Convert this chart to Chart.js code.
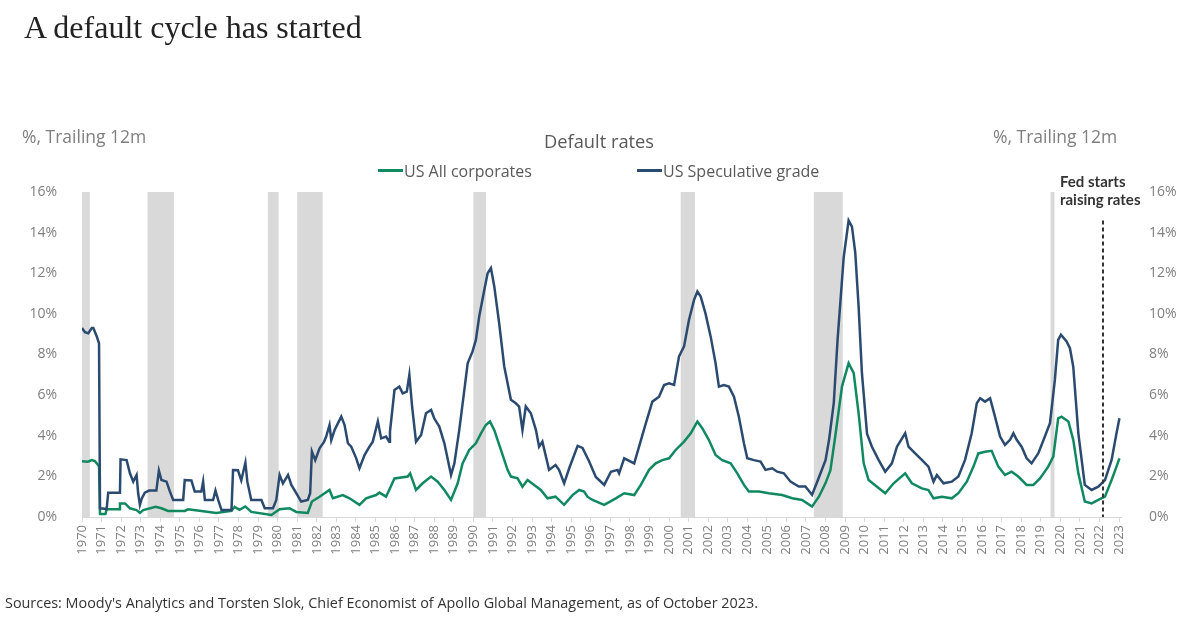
<!DOCTYPE html>
<html lang="en">
<head>
    <meta charset="UTF-8">
    <meta name="viewport" content="width=device-width, initial-scale=1.0">
    <script src="https://cdn.jsdelivr.net/npm/chart.js"></script>
    <style>
        html, body {
            margin: 0;
            padding: 0;
            background: #ffffff;
            width: 1200px;
            height: 627px;
            overflow: hidden;
            font-family: "Open Sans", Lato, sans-serif;
        }
        #chart {
            position: absolute;
            left: 0;
            top: 0;
        }
        .txt {
            position: absolute;
            white-space: nowrap;
            line-height: 1;
        }
        .swatch {
            display: inline-block;
            width: 25px;
            height: 3px;
            vertical-align: middle;
            margin-right: 1px;
            position: relative;
            top: -2px;
        }
    </style>
    <title>A default cycle has started</title>
</head>
<body>

<canvas id="chart" width="1200" height="627"></canvas>

<div class="txt" style="left:24px; top:11px; font-family:'Liberation Serif','DejaVu Serif',serif; font-size:32px; color:#222;">A default cycle has started</div>
<div class="txt" style="left:22px; top:128px; font-size:17.5px; color:#7f7f7f;">%, Trailing 12m</div>
<div class="txt" style="left:993px; top:128px; font-size:17.5px; color:#7f7f7f;">%, Trailing 12m</div>
<div class="txt" style="left:544px; top:132px; font-size:18.3px; color:#595959;">Default rates</div>
<div class="txt" style="left:378px; top:163px; font-size:16px; color:#595959;"><span class="swatch" style="background:#10895f;"></span>US All corporates</div>
<div class="txt" style="left:637px; top:163px; font-size:16px; color:#595959;"><span class="swatch" style="background:#2b4a70;"></span>US Speculative grade</div>
<div class="txt" style="left:1060px; top:172px; font-family:Lato,sans-serif; font-size:15px; font-weight:bold; color:#333; line-height:18px;">Fed starts<br>raising rates</div>
<div class="txt" style="left:5px; top:596px; font-size:14.4px; color:#333;">Sources: Moody's Analytics and Torsten Slok, Chief Economist of Apollo Global Management, as of October 2023.</div>

<script>
    // US Speculative grade, trailing 12m default rate (%)
    const specYears = [
        1970.00, 1970.15, 1970.32, 1970.50, 1970.58, 1970.75, 1970.87, 1970.92, 1971.26, 1971.34,
        1971.94, 1971.97, 1972.28, 1972.45, 1972.62, 1972.79, 1972.87, 1972.96, 1973.05, 1973.21,
        1973.43, 1973.80, 1973.93, 1974.06, 1974.32, 1974.49, 1974.66, 1975.17, 1975.25, 1975.59,
        1975.76, 1976.10, 1976.19, 1976.28, 1976.70, 1976.82, 1976.96, 1977.13, 1977.64, 1977.72,
        1977.97, 1978.14, 1978.35, 1978.45, 1978.65, 1979.17, 1979.34, 1979.76, 1979.93, 1980.10,
        1980.27, 1980.53, 1980.70, 1980.95, 1981.20, 1981.54, 1981.66, 1981.75, 1981.92, 1982.14,
        1982.37, 1982.48, 1982.65, 1982.74, 1982.91, 1983.25, 1983.42, 1983.59, 1983.76, 1984.01,
        1984.18, 1984.44, 1984.69, 1984.86, 1985.12, 1985.29, 1985.54, 1985.70, 1985.74, 1985.97,
        1986.22, 1986.39, 1986.60, 1986.73, 1986.87, 1987.07, 1987.33, 1987.58, 1987.84, 1988.00,
        1988.26, 1988.52, 1988.86, 1989.03, 1989.28, 1989.54, 1989.71, 1989.96, 1990.13, 1990.30,
        1990.56, 1990.73, 1990.90, 1991.07, 1991.32, 1991.58, 1991.92, 1992.17, 1992.34, 1992.51,
        1992.68, 1992.94, 1993.20, 1993.36, 1993.53, 1993.87, 1994.20, 1994.38, 1994.64, 1994.90,
        1995.33, 1995.58, 1995.92, 1996.26, 1996.69, 1997.03, 1997.37, 1997.45, 1997.71, 1998.22,
        1998.47, 1998.81, 1999.15, 1999.49, 1999.75, 2000.00, 2000.26, 2000.51, 2000.77, 2001.02,
        2001.28, 2001.45, 2001.62, 2001.87, 2002.13, 2002.38, 2002.55, 2002.80, 2003.06, 2003.32,
        2003.57, 2003.83, 2004.00, 2004.34, 2004.68, 2004.93, 2005.27, 2005.53, 2005.87, 2006.21,
        2006.63, 2006.97, 2007.31, 2007.60, 2008.00, 2008.18, 2008.42, 2008.62, 2008.93, 2009.18,
        2009.35, 2009.52, 2009.69, 2009.86, 2010.12, 2010.37, 2010.71, 2011.05, 2011.39, 2011.65,
        2012.07, 2012.24, 2012.58, 2012.92, 2013.26, 2013.52, 2013.69, 2014.03, 2014.45, 2014.79,
        2015.13, 2015.47, 2015.73, 2015.90, 2016.15, 2016.41, 2016.66, 2016.92, 2017.17, 2017.43,
        2017.60, 2017.77, 2018.02, 2018.28, 2018.53, 2018.87, 2019.21, 2019.47, 2019.72, 2019.89,
        2020.03, 2020.32, 2020.49, 2020.66, 2020.92, 2021.25, 2021.60, 2021.94, 2022.28, 2022.62,
        2022.87, 2023.02
    ];
    const specRates = [
        9.30, 9.10, 9.05, 9.30, 9.30, 8.90, 8.55, 0.43, 0.40, 1.20,
        1.20, 2.84, 2.80, 2.15, 1.74, 2.07, 1.17, 0.60, 0.90, 1.20,
        1.30, 1.30, 2.28, 1.82, 1.74, 1.26, 0.84, 0.84, 1.82, 1.80,
        1.26, 1.26, 1.74, 0.84, 0.84, 1.30, 0.84, 0.34, 0.34, 2.31,
        2.30, 1.80, 2.68, 1.74, 0.84, 0.84, 0.43, 0.43, 0.84, 2.07,
        1.65, 2.07, 1.58, 1.17, 0.76, 0.84, 1.17, 3.22, 2.80, 3.38,
        3.70, 3.96, 4.53, 3.78, 4.28, 4.94, 4.53, 3.63, 3.46, 2.90,
        2.40, 3.05, 3.46, 3.71, 4.70, 3.87, 3.96, 3.71, 4.20, 6.25,
        6.42, 6.09, 6.17, 7.00, 5.44, 3.71, 4.04, 5.11, 5.27, 4.86,
        4.45, 3.63, 2.07, 2.64, 4.28, 6.25, 7.57, 8.15, 8.72, 9.87,
        11.18, 12.00, 12.25, 11.35, 9.54, 7.41, 5.77, 5.60, 5.44, 4.28,
        5.44, 5.11, 4.28, 3.46, 3.71, 2.32, 2.56, 2.32, 1.66, 2.40,
        3.50, 3.40, 2.73, 1.97, 1.58, 2.23, 2.32, 2.15, 2.89, 2.64,
        3.46, 4.60, 5.68, 5.92, 6.50, 6.58, 6.50, 7.90, 8.40, 9.70,
        10.69, 11.10, 10.85, 10.00, 8.88, 7.57, 6.42, 6.50, 6.42, 5.92,
        4.94, 3.63, 2.89, 2.80, 2.73, 2.32, 2.40, 2.23, 2.15, 1.74,
        1.50, 1.50, 1.09, 1.80, 2.80, 3.80, 5.60, 8.80, 12.80, 14.60,
        14.30, 13.00, 10.36, 7.08, 4.10, 3.46, 2.81, 2.23, 2.64, 3.46,
        4.12, 3.46, 3.13, 2.81, 2.48, 1.74, 2.07, 1.66, 1.74, 1.99,
        2.81, 4.12, 5.60, 5.85, 5.68, 5.85, 4.94, 3.96, 3.55, 3.80,
        4.12, 3.80, 3.46, 2.89, 2.64, 3.13, 3.96, 4.62, 6.75, 8.72,
        8.97, 8.64, 8.31, 7.40, 4.12, 1.58, 1.33, 1.49, 1.82, 2.81,
        4.12, 4.86
    ];

    // US All corporates, trailing 12m default rate (%)
    const corpYears = [
        1970.00, 1970.30, 1970.50, 1970.66, 1970.75, 1970.87, 1970.92, 1971.20, 1971.26, 1971.90,
        1971.94, 1972.20, 1972.45, 1972.79, 1972.96, 1973.13, 1973.76, 1974.06, 1974.40, 1975.25,
        1975.42, 1976.10, 1976.86, 1977.64, 1977.80, 1978.05, 1978.35, 1978.65, 1979.68, 1980.10,
        1980.60, 1980.95, 1981.54, 1981.75, 1982.14, 1982.65, 1982.82, 1983.33, 1983.67, 1984.18,
        1984.52, 1985.03, 1985.20, 1985.54, 1985.97, 1986.65, 1986.77, 1987.07, 1987.41, 1987.84,
        1988.18, 1988.52, 1988.86, 1989.20, 1989.45, 1989.79, 1990.13, 1990.39, 1990.64, 1990.85,
        1991.07, 1991.41, 1991.75, 1991.92, 1992.26, 1992.51, 1992.77, 1993.11, 1993.45, 1993.79,
        1994.20, 1994.64, 1995.07, 1995.41, 1995.66, 1995.83, 1996.09, 1996.69, 1997.28, 1997.71,
        1998.22, 1998.56, 1998.98, 1999.32, 1999.66, 2000.00, 2000.34, 2000.77, 2001.11, 2001.45,
        2001.70, 2002.04, 2002.38, 2002.72, 2003.15, 2003.49, 2003.83, 2004.08, 2004.60, 2005.10,
        2005.78, 2006.30, 2006.80, 2007.31, 2007.66, 2008.00, 2008.25, 2008.50, 2008.84, 2009.18,
        2009.44, 2009.69, 2009.95, 2010.20, 2010.63, 2011.05, 2011.48, 2012.07, 2012.41, 2012.92,
        2013.26, 2013.52, 2013.94, 2014.45, 2014.79, 2015.22, 2015.56, 2015.81, 2016.15, 2016.49,
        2016.83, 2017.17, 2017.51, 2017.85, 2018.28, 2018.62, 2018.96, 2019.38, 2019.64, 2019.89,
        2020.06, 2020.41, 2020.66, 2020.92, 2021.25, 2021.60, 2021.94, 2022.28, 2022.62, 2022.87,
        2023.02
    ];
    const corpRates = [
        2.75, 2.72, 2.80, 2.75, 2.65, 2.50, 0.15, 0.15, 0.38, 0.38,
        0.67, 0.67, 0.43, 0.34, 0.20, 0.34, 0.50, 0.43, 0.30, 0.30,
        0.38, 0.30, 0.20, 0.30, 0.50, 0.35, 0.52, 0.25, 0.10, 0.38,
        0.43, 0.25, 0.20, 0.76, 1.00, 1.33, 0.92, 1.08, 0.92, 0.60,
        0.92, 1.08, 1.20, 1.00, 1.90, 1.99, 2.15, 1.33, 1.66, 1.99,
        1.74, 1.33, 0.84, 1.66, 2.64, 3.30, 3.63, 4.12, 4.53, 4.70,
        4.28, 3.30, 2.32, 1.99, 1.90, 1.49, 1.82, 1.58, 1.33, 0.92,
        1.00, 0.60, 1.08, 1.33, 1.25, 1.00, 0.84, 0.60, 0.92, 1.17,
        1.08, 1.58, 2.32, 2.64, 2.80, 2.89, 3.30, 3.71, 4.12, 4.70,
        4.37, 3.79, 3.05, 2.80, 2.64, 2.15, 1.58, 1.25, 1.25, 1.17,
        1.08, 0.92, 0.84, 0.51, 1.00, 1.67, 2.30, 4.00, 6.42, 7.57,
        7.08, 5.10, 2.64, 1.82, 1.49, 1.17, 1.66, 2.15, 1.66, 1.41,
        1.33, 0.92, 1.00, 0.92, 1.17, 1.74, 2.48, 3.13, 3.21, 3.26,
        2.48, 2.07, 2.23, 1.99, 1.58, 1.58, 1.90, 2.48, 2.97, 4.86,
        4.94, 4.70, 3.80, 2.15, 0.76, 0.67, 0.84, 1.00, 1.82, 2.48,
        2.89
    ];

    // Recession shading, as placed on the year axis of the picture
    const recessionStart = [1970.00, 1973.35, 1979.50, 1981.00, 1990.00, 2000.60, 2007.40, 2019.50];
    const recessionEnd   = [1970.40, 1974.70, 1980.05, 1982.30, 1990.65, 2001.33, 2008.88, 2019.70];

    // Fed starts raising rates
    const fedHikeYear = 2022.17;
    const fedLineTop = 14.6;

    const yTicks = [0, 2, 4, 6, 8, 10, 12, 14, 16];

    function toPoints(xs, ys) {
        return xs.map((x, i) => ({ x: x, y: ys[i] }));
    }

    // Grey bars for recessions
    const recessionBands = {
        id: 'recessionBands',
        beforeDatasetsDraw(chart) {
            const { ctx, chartArea, scales } = chart;
            ctx.save();
            ctx.fillStyle = '#d9d9d9';
            recessionStart.forEach((s, i) => {
                const x0 = scales.x.getPixelForValue(s);
                const x1 = scales.x.getPixelForValue(recessionEnd[i]);
                ctx.fillRect(x0, chartArea.top, x1 - x0, chartArea.bottom - chartArea.top);
            });
            ctx.restore();
        }
    };

    // Dashed marker for the first Fed hike
    const fedMarker = {
        id: 'fedMarker',
        afterDatasetsDraw(chart) {
            const { ctx, chartArea, scales } = chart;
            const x = Math.round(scales.x.getPixelForValue(fedHikeYear));
            ctx.save();
            ctx.strokeStyle = '#333333';
            ctx.lineWidth = 2;
            ctx.setLineDash([4, 3]);
            ctx.beginPath();
            ctx.moveTo(x, scales.y.getPixelForValue(fedLineTop));
            ctx.lineTo(x, chartArea.bottom);
            ctx.stroke();
            ctx.restore();
        }
    };

    const pctTick = v => v + '%';

    const chart = new Chart(document.getElementById('chart'), {
        type: 'line',
        data: {
            datasets: [
                {
                    label: 'US Speculative grade',
                    data: toPoints(specYears, specRates),
                    borderColor: '#2b4a70',
                    borderWidth: 2.5,
                    pointRadius: 0,
                    tension: 0
                },
                {
                    label: 'US All corporates',
                    data: toPoints(corpYears, corpRates),
                    borderColor: '#10895f',
                    borderWidth: 2.5,
                    pointRadius: 0,
                    tension: 0
                }
            ]
        },
        options: {
            responsive: false,
            animation: false,
            devicePixelRatio: 1,
            layout: {
                padding: { top: 192, bottom: 50, left: 0, right: 0 }
            },
            plugins: {
                legend: { display: false },
                tooltip: { enabled: false }
            },
            scales: {
                x: {
                    type: 'linear',
                    min: 1970,
                    max: 2023.1,
                    grid: {
                        display: true,
                        drawOnChartArea: false,
                        drawTicks: true,
                        tickLength: 5,
                        color: '#d9d9d9'
                    },
                    border: { color: '#d9d9d9', width: 1 },
                    ticks: {
                        stepSize: 1,
                        includeBounds: false,
                        autoSkip: false,
                        minRotation: 90,
                        maxRotation: 90,
                        padding: 3,
                        color: '#7f7f7f',
                        font: { family: 'Open Sans', size: 13 },
                        callback: v => String(v)
                    },
                    afterFit: s => { s.height = 60; }
                },
                y: {
                    position: 'left',
                    min: 0,
                    max: 16,
                    grid: { display: false },
                    border: { display: false },
                    afterBuildTicks: s => { s.ticks = yTicks.map(v => ({ value: v })); },
                    ticks: {
                        padding: 17,
                        color: '#7f7f7f',
                        font: { family: 'Open Sans', size: 14 },
                        callback: pctTick
                    },
                    afterFit: s => { s.width = 82; }
                },
                y2: {
                    position: 'right',
                    min: 0,
                    max: 16,
                    grid: { display: false },
                    border: { display: false },
                    afterBuildTicks: s => { s.ticks = yTicks.map(v => ({ value: v })); },
                    ticks: {
                        padding: 20,
                        color: '#7f7f7f',
                        font: { family: 'Open Sans', size: 14 },
                        callback: pctTick
                    },
                    afterFit: s => { s.width = 79; }
                }
            }
        },
        plugins: [recessionBands, fedMarker]
    });
</script>

</body>
</html>
